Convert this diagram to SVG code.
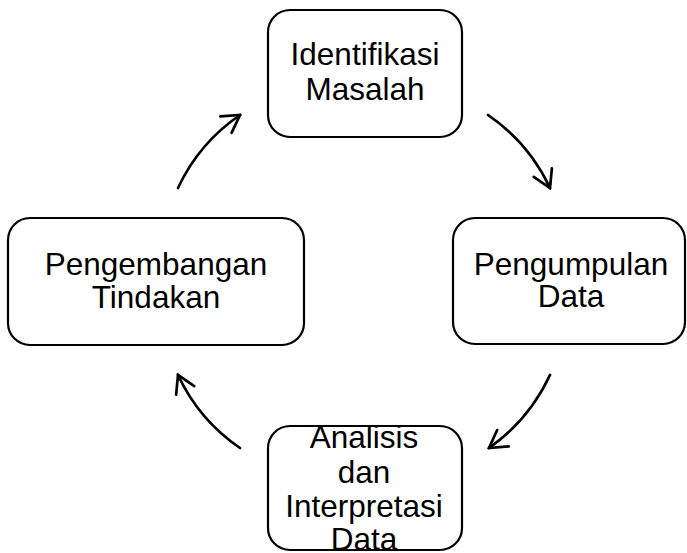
<svg xmlns="http://www.w3.org/2000/svg" width="687" height="553" viewBox="0 0 687 553">
  <style>
    .box { fill: #ffffff; stroke: #000000; stroke-width: 2.2; }
    .lbl { font-family: "Liberation Sans", Arial, sans-serif; font-size: 31.5px; fill: #000000; text-anchor: middle; }
    .conn { fill: none; stroke: #000000; stroke-width: 2.7; stroke-linecap: round; }
  </style>
  <defs>
    <marker id="arrow" viewBox="-20 -12 22 24" refX="0" refY="0" markerWidth="22" markerHeight="24" markerUnits="userSpaceOnUse" orient="auto">
      <path d="M-17,-10 L0,0 L-17,10" fill="none" stroke="#000000" stroke-width="2.7" stroke-linecap="round" stroke-linejoin="miter"/>
    </marker>
  </defs>
  <rect x="0" y="0" width="687" height="553" fill="#ffffff"/>

  <g id="connectors">
    <path class="conn" d="M488,115 Q529,143 550,188" marker-end="url(#arrow)"/>
    <path class="conn" d="M550,375 Q529,420 489,448" marker-end="url(#arrow)"/>
    <path class="conn" d="M240,448 Q199,420 178,375" marker-end="url(#arrow)"/>
    <path class="conn" d="M178,188 Q199,143 240,115" marker-end="url(#arrow)"/>
  </g>

  <g id="node-identifikasi">
    <rect class="box" x="268" y="10" width="194" height="127" rx="22" ry="22"/>
    <text class="lbl" x="365" y="65">Identifikasi</text>
    <text class="lbl" x="365" y="100">Masalah</text>
  </g>

  <g id="node-pengumpulan">
    <rect class="box" x="453" y="218" width="232" height="126" rx="22" ry="22"/>
    <text class="lbl" x="571" y="275">Pengumpulan</text>
    <text class="lbl" x="571" y="307">Data</text>
  </g>

  <g id="node-analisis">
    <rect class="box" x="268" y="426" width="194" height="124" rx="22" ry="22"/>
    <text class="lbl" x="364" y="448">Analisis</text>
    <text class="lbl" x="364" y="483">dan</text>
    <text class="lbl" x="364" y="517">Interpretasi</text>
    <text class="lbl" x="364" y="550">Data</text>
  </g>

  <g id="node-pengembangan">
    <rect class="box" x="8" y="218" width="296" height="127" rx="22" ry="22"/>
    <text class="lbl" x="156" y="275">Pengembangan</text>
    <text class="lbl" x="156" y="308">Tindakan</text>
  </g>
</svg>
